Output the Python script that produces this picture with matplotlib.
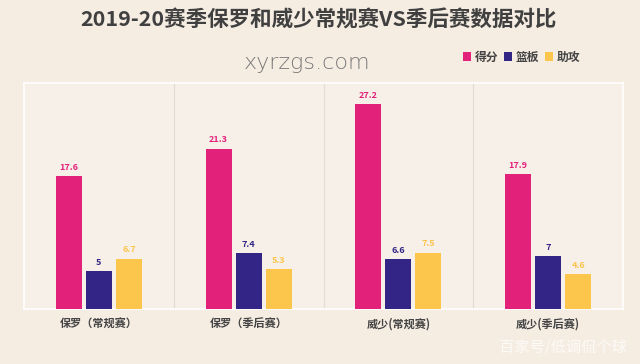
import numpy as np
import matplotlib.pyplot as plt

plt.rcParams['font.family'] = ['Noto Sans CJK SC', 'DejaVu Sans']

# data
categories = ['保罗（常规赛）', '保罗（季后赛）', '威少(常规赛)', '威少(季后赛)']
points = [17.6, 21.3, 27.2, 17.9]
rebounds = [5, 7.4, 6.6, 7]
assists = [6.7, 5.3, 7.5, 4.6]
series_names = ['得分', '篮板', '助攻']

colors = ['#E2217B', '#332586', '#FCC54C']
bg = '#F5ECE2'

fig = plt.figure(figsize=(6.4, 3.64), dpi=100, facecolor=bg)
ax = fig.add_axes([0.0375, 0.151, 0.936, 0.621])
ax.set_facecolor('#F7F0E8')

x = np.arange(len(categories))
w = 0.173
step = 0.2
for i, (vals, c) in enumerate(zip([points, rebounds, assists], colors)):
    pos = x + (i - 1) * step
    ax.bar(pos, vals, width=w, color=c, label=series_names[i], zorder=3)
    for p, v in zip(pos, vals):
        ax.text(p, v + 0.6, f'{v:g}', ha='center', va='bottom', fontsize=6.5,
                fontweight='bold', color=c, zorder=4)

ax.set_xlim(-0.5, 3.5)
ax.set_ylim(0, 30)
ax.set_yticks([])
ax.set_xticks(x)
ax.set_xticklabels(categories, fontsize=8, fontweight='bold', color='#444444')
ax.tick_params(axis='x', length=0, pad=6)
for xs in [0.5, 1.5, 2.5]:
    ax.axvline(xs, color='#E2DCD4', lw=0.8, zorder=1)
for s in ax.spines.values():
    s.set_color('#FFFFFF')
    s.set_linewidth(1.2)

fig.text(0.497, 0.945, '2019-20赛季保罗和威少常规赛VS季后赛数据对比', ha='center',
         va='center', fontsize=15.5, fontweight='bold', color='#404040')

leg = fig.legend(loc='center', bbox_to_anchor=(0.815, 0.843), ncol=3, frameon=False,
                 fontsize=8.5, handlelength=0.7, handleheight=0.7, handletextpad=0.3,
                 columnspacing=0.5)
for t in leg.get_texts():
    t.set_color('#444444')
    t.set_fontweight('bold')

# watermarks
fig.text(0.48, 0.828, 'xyrzgs.com', ha='center', va='center', fontsize=16,
         color='#7A7A7A', family='DejaVu Sans', fontweight='light')
fig.text(0.88, 0.047, '百家号/低调侃个球', ha='center', va='center', fontsize=11,
         color='#FFFFFF', alpha=0.75)

fig.savefig('out.png', dpi=100, facecolor=bg)
